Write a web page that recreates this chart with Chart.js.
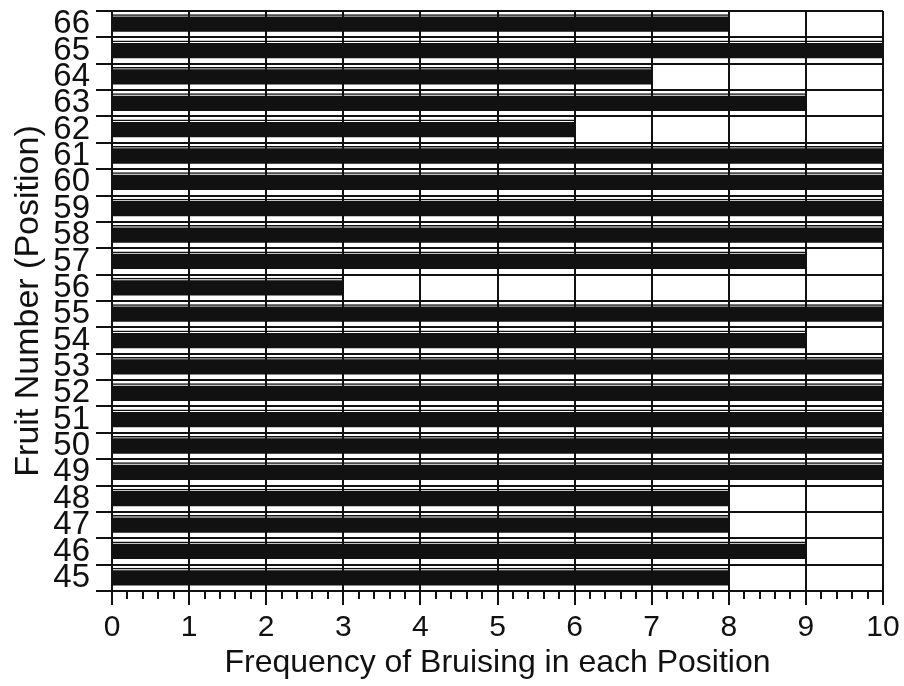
<!DOCTYPE html>
<html>
<head>
<meta charset="utf-8">
<script src="https://cdn.jsdelivr.net/npm/chart.js@4.4.1/dist/chart.umd.min.js"></script>
<style>
  html, body { margin: 0; padding: 0; background: #fff; }
  #bruiseChart { display: block; }
</style>
</head>
<body>
<canvas id="bruiseChart" width="904" height="686"></canvas>
<script>
// fruit positions (bottom to top) and how often each was bruised (out of 10)
const fruitNumbers = ['45', '46', '47', '48', '49', '50', '51', '52', '53', '54', '55',
                      '56', '57', '58', '59', '60', '61', '62', '63', '64', '65', '66'];
const bruisingFreq = [8, 9, 8, 8, 10, 10, 10, 10, 10, 9, 10,
                      3, 9, 10, 10, 10, 10, 6, 9, 7, 10, 8];
const xMin = 0;
const xMax = 10;
const xMinorStep = 0.2;

const FONT = "'Liberation Sans', Arial, Helvetica, sans-serif";

function isWhole(v) {
    return Math.abs(v - Math.round(v)) < 1e-6;
}

const ctx = document.getElementById('bruiseChart').getContext('2d');

const bruiseChart = new Chart(ctx, {
    type: 'bar',
    data: {
        labels: fruitNumbers,
        datasets: [
            {
                // solid black bar
                data: bruisingFreq,
                backgroundColor: '#111',
                borderWidth: 0,
                barPercentage: 0.58,
                categoryPercentage: 1,
                grouped: false,
                order: 0
            },
            {
                // thin outline line sitting just above each bar
                data: bruisingFreq,
                backgroundColor: 'rgba(0,0,0,0)',
                borderColor: '#111',
                borderWidth: { top: 1.5, right: 0, bottom: 0, left: 0 },
                borderSkipped: false,
                barPercentage: 0.76,
                categoryPercentage: 1,
                grouped: false,
                order: 1
            }
        ]
    },
    options: {
        indexAxis: 'y',
        responsive: false,
        animation: false,
        layout: {
            padding: { top: 11, right: 21, bottom: 0, left: 0 }
        },
        plugins: {
            legend: { display: false },
            tooltip: { enabled: false }
        },
        scales: {
            x: {
                type: 'linear',
                min: xMin,
                max: xMax,
                border: { color: '#111', width: 2 },
                grid: {
                    color: (c) => isWhole(c.tick.value) ? '#111' : 'rgba(0,0,0,0)',
                    lineWidth: 2,
                    tickColor: '#111',
                    tickWidth: 2,
                    tickLength: 14,
                    tickBorderDash: (c) => isWhole(c.tick.value) ? [] : [7, 40]
                },
                ticks: {
                    stepSize: xMinorStep,
                    maxTicksLimit: 60,
                    autoSkip: false,
                    maxRotation: 0,
                    padding: 5,
                    color: '#111',
                    font: { family: FONT, size: 30 },
                    callback: function(value) {
                        return isWhole(value) ? String(Math.round(value)) : '';
                    }
                },
                title: {
                    display: true,
                    text: 'Frequency of Bruising in each Position',
                    color: '#111',
                    font: { family: FONT, size: 32 },
                    padding: { top: 0, bottom: 4 }
                },
                afterFit: function(scale) {
                    scale.height = 95;
                    scale.paddingLeft = 0;
                    scale.paddingRight = 0;
                }
            },
            y: {
                type: 'category',
                reverse: true,
                border: { color: '#111', width: 2 },
                grid: {
                    color: '#111',
                    lineWidth: 2,
                    tickColor: '#111',
                    tickWidth: 2,
                    tickLength: 16,
                    offset: true
                },
                ticks: {
                    autoSkip: false,
                    padding: 6,
                    color: '#111',
                    font: { family: FONT, size: 33 }
                },
                title: {
                    display: true,
                    text: 'Fruit Number (Position)',
                    color: '#111',
                    font: { family: FONT, size: 34 },
                    padding: { top: 8, bottom: 0 }
                },
                afterFit: function(scale) {
                    scale.width = 112;
                    scale.paddingTop = 0;
                    scale.paddingBottom = 0;
                }
            }
        }
    }
});
</script>
</body>
</html>
